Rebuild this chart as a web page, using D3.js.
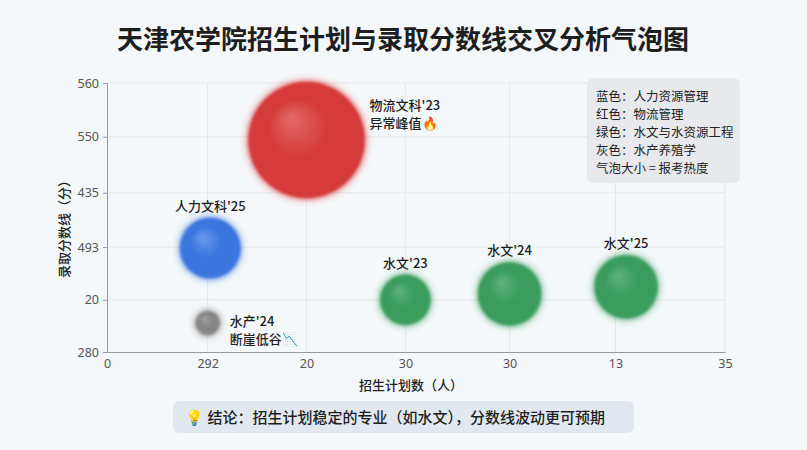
<!DOCTYPE html>
<html>
<head>
<meta charset="utf-8">
<script src="https://cdn.jsdelivr.net/npm/d3@7"></script>
<style>
  html, body { margin: 0; padding: 0; background: #f5f8fa; }
  svg { display: block; font-family: "Noto Sans CJK SC", "Noto Sans", sans-serif; }
</style>
</head>
<body>
<svg id="chart" width="807" height="450"></svg>
<script>
// axis ticks (positions in axis units, labels as shown)
const xTickValues = [0, 5.7, 11.3, 16.9, 22.8, 28.8, 35];
const xTickLabels = ["0", "292", "20", "30", "30", "13", "35"];
const yTickValues = [0, 0.97, 1.95, 2.96, 4.0, 5];
const yTickLabels = ["280", "20", "493", "435", "550", "560"];

// bubbles
const names  = ["物流文科'23", "人力文科'25", "水产'24", "水文'23", "水文'24", "水文'25"];
const groups = ["red", "blue", "gray", "green", "green", "green"];
const planX  = [11.3, 5.85, 5.7, 16.9, 22.8, 29.4];
const scoreY = [3.94, 1.93, 0.54, 0.97, 1.08, 1.21];
const heat   = [100, 27, 4.3, 18.5, 29.5, 29.5];
const notes  = ["异常峰值🔥", "", "断崖低谷📉", "", "", ""];

const legendLines = ["蓝色：人力资源管理", "红色：物流管理", "绿色：水文与水资源工程", "灰色：水产养殖学", "气泡大小 = 报考热度"];

const palette = {
  red:   { base: "#d63b3b", light: "#e36a6a" },
  blue:  { base: "#3a76de", light: "#6c9bec" },
  gray:  { base: "#858585", light: "#a8a8a8" },
  green: { base: "#3a9d5d", light: "#62b27f" }
};

const width = 807, height = 450;
const margin = { top: 83, right: 82, bottom: 98, left: 107 };

const svg = d3.select("#chart");
const defs = svg.append("defs");

Object.keys(palette).forEach(function (k) {
  const g = defs.append("radialGradient")
    .attr("id", "grad-" + k)
    .attr("cx", "50%").attr("cy", "50%").attr("r", "50%")
    .attr("fx", "36%").attr("fy", "30%");
  g.append("stop").attr("offset", "0%").attr("stop-color", palette[k].light);
  g.append("stop").attr("offset", "50%").attr("stop-color", palette[k].base);
  g.append("stop").attr("offset", "100%").attr("stop-color", palette[k].base);
});

const glow = defs.append("filter").attr("id", "glow")
  .attr("x", "-30%").attr("y", "-30%").attr("width", "160%").attr("height", "160%");
glow.append("feGaussianBlur").attr("in", "SourceGraphic").attr("stdDeviation", 4).attr("result", "halo");
glow.append("feGaussianBlur").attr("in", "SourceGraphic").attr("stdDeviation", 1.6).attr("result", "soft");
const merge = glow.append("feMerge");
merge.append("feMergeNode").attr("in", "halo");
merge.append("feMergeNode").attr("in", "soft");

const x = d3.scaleLinear().domain([0, 35]).range([margin.left, width - margin.right]);
const y = d3.scaleLinear().domain([0, 5]).range([height - margin.bottom, margin.top]);
const r = d3.scaleSqrt().domain([0, 100]).range([0, 58]);

// title
svg.append("text")
  .attr("x", 403).attr("y", 49)
  .attr("text-anchor", "middle")
  .style("font-size", "26px").style("font-weight", "bold").style("fill", "#1e1e1e")
  .text("天津农学院招生计划与录取分数线交叉分析气泡图");

// grid
const grid = svg.append("g");
grid.selectAll(".gx").data(xTickValues.slice(1)).join("line")
  .attr("x1", d => x(d)).attr("x2", d => x(d))
  .attr("y1", y(5)).attr("y2", y(0))
  .style("stroke", "#e4e8ec").style("stroke-width", 1);
grid.selectAll(".gy").data(yTickValues.slice(1)).join("line")
  .attr("x1", x(0)).attr("x2", x(35))
  .attr("y1", d => y(d)).attr("y2", d => y(d))
  .style("stroke", "#e4e8ec").style("stroke-width", 1);

// axes
const xAxis = svg.append("g")
  .attr("transform", "translate(0," + y(0) + ")")
  .call(d3.axisBottom(x).tickValues(xTickValues).tickSize(0).tickPadding(7)
    .tickFormat((d, i) => xTickLabels[i]));
const yAxis = svg.append("g")
  .attr("transform", "translate(" + x(0) + ",0)")
  .call(d3.axisLeft(y).tickValues(yTickValues).tickSize(4).tickPadding(4)
    .tickFormat((d, i) => yTickLabels[i]));
[xAxis, yAxis].forEach(function (a) {
  a.select(".domain").style("stroke", "#9a9a9a");
  a.selectAll(".tick line").style("stroke", "#9a9a9a");
  a.selectAll("text").style("font-size", "12.5px").style("fill", "#555")
    .style("font-family", "'Noto Sans', 'Noto Sans CJK SC', sans-serif");
});

svg.append("text")
  .attr("x", 411).attr("y", 390)
  .attr("text-anchor", "middle")
  .style("font-size", "13px").style("font-weight", 500).style("fill", "#222")
  .text("招生计划数（人）");
svg.append("text")
  .attr("transform", "translate(69,226) rotate(-90)")
  .attr("text-anchor", "middle")
  .style("font-size", "13px").style("font-weight", 500).style("fill", "#222")
  .text("录取分数线（分）");

// bubbles
const data = names.map(function (n, i) {
  return { name: n, group: groups[i], x: planX[i], y: scoreY[i], heat: heat[i], note: notes[i] };
});

svg.append("g").selectAll("circle").data(data).join("circle")
  .attr("cx", d => x(d.x))
  .attr("cy", d => y(d.y))
  .attr("r", d => r(d.heat))
  .style("fill", d => "url(#grad-" + d.group + ")")
  .attr("filter", "url(#glow)");

// labels
const labels = svg.append("g")
  .style("font-size", "13px").style("fill", "#1e1e1e").style("font-weight", 500);

data.forEach(function (d) {
  const cx = x(d.x), cy = y(d.y), rr = r(d.heat);
  if (d.note) {
    const lx = cx + rr + (d.group === "red" ? 5 : 10);
    const side = labels.append("text")
      .attr("x", lx)
      .attr("y", d.group === "red" ? cy - 30 : cy + 3.5);
    side.append("tspan").text(d.name);
    side.append("tspan").attr("x", lx).attr("dy", 18).text(d.note);
  } else {
    labels.append("text")
      .attr("x", cx).attr("y", cy - rr - 7)
      .attr("text-anchor", "middle")
      .text(d.name);
  }
});

// legend box
const lg = svg.append("g").attr("transform", "translate(587,78)");
lg.append("rect")
  .attr("width", 153).attr("height", 105).attr("rx", 6)
  .style("fill", "#e7e9ed");
lg.selectAll("text").data(legendLines).join("text")
  .attr("x", 9).attr("y", (d, i) => 22.5 + i * 18)
  .style("font-size", "12.5px").style("fill", "#222")
  .text(d => d);

// conclusion box
const cb = svg.append("g").attr("transform", "translate(173,401)");
cb.append("rect")
  .attr("width", 461).attr("height", 32).attr("rx", 6)
  .style("fill", "#e2e8f0");
cb.append("text")
  .attr("x", 12).attr("y", 21.5)
  .style("font-size", "15px").style("font-weight", 500).style("fill", "#1e1e1e")
  .text("💡 结论：招生计划稳定的专业（如水文），分数线波动更可预期");
</script>
</body>
</html>
